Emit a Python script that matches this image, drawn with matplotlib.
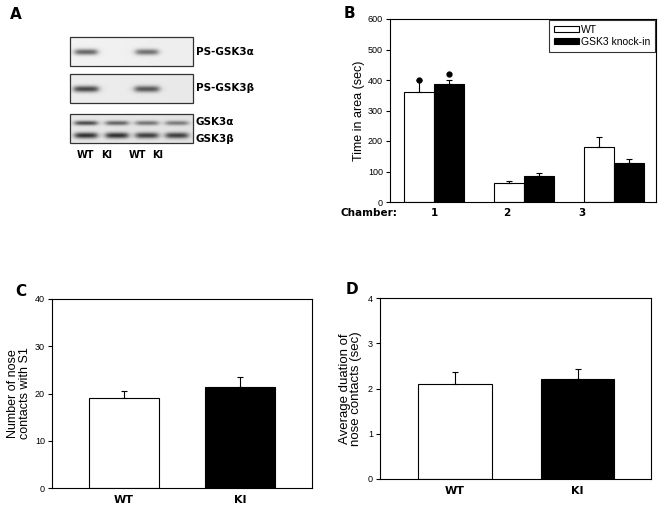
import numpy as np
import matplotlib
matplotlib.use("Agg")
import matplotlib.pyplot as plt
from matplotlib.patches import Patch, Rectangle

plt.rcParams["font.family"] = ["Liberation Sans", "DejaVu Sans"]

# --- data ---
lanes = ["WT", "KI", "WT", "KI"]
ps_alpha = [0.55, 0.0, 0.50, 0.0]
ps_beta = [0.65, 0.0, 0.58, 0.0]
tot_alpha = [0.62, 0.52, 0.45, 0.42]
tot_beta = [0.72, 0.72, 0.66, 0.66]

chambers = ["1", "2", "3"]
wt_time = [361, 61, 179]
wt_time_err = [39, 7, 34]
ki_time = [386, 85, 128]
ki_time_err = [14, 9, 13]

groups = ["WT", "KI"]
contacts = [19.1, 21.3]
contacts_err = [1.4, 2.2]
duration = [2.11, 2.21]
duration_err = [0.25, 0.22]

W, H = 661, 509
fig = plt.figure(figsize=(W / 100, H / 100), dpi=100)

# ---------- panel A: blot drawn in pixel coordinates ----------
pa = fig.add_axes([0, 0, 1, 1])
pa.set_xlim(0, W)
pa.set_ylim(H, 0)
pa.axis("off")
pa.set_zorder(-1)


def band_img(x0, y0, w, h, rows, bg):
    s = 4
    xs = np.linspace(x0, x0 + w, int(w * s))
    ys = np.linspace(y0, y0 + h, int(h * s))
    xx, yy = np.meshgrid(xs, ys)
    img = np.full(xx.shape, bg) - 0.02 * (xx - x0) / w
    lane_x = [x0 + 16, x0 + 47, x0 + 77, x0 + 107]
    for cy, vals, bw, bh in rows:
        for cx, a in zip(lane_x, vals):
            if a <= 0:
                continue
            px = 1 / (1 + np.exp(-(xx - (cx - bw / 2)) / 1.8)) * 1 / (1 + np.exp((xx - (cx + bw / 2)) / 1.8))
            py = np.exp(-((yy - cy) / bh) ** 2)
            img -= a * px * py
    img = np.clip(img, 0, 1)
    pa.imshow(img, cmap="gray", vmin=0, vmax=1, extent=(x0, x0 + w, y0 + h, y0),
              interpolation="bilinear", aspect="auto")
    pa.add_patch(Rectangle((x0, y0), w, h, fill=False, ec="#333333", lw=0.9))


band_img(70, 37, 123, 29, [(52, ps_alpha, 22, 3.0)], 0.95)
band_img(70, 74, 123, 29, [(89, ps_beta, 24, 3.2)], 0.93)
band_img(70, 114, 123, 29, [(123, tot_alpha, 22, 2.3), (135.5, tot_beta, 22, 3.0)], 0.91)

blot_kw = dict(fontsize=7.5, fontweight="bold", family="DejaVu Sans", va="center", ha="left")
pa.text(196, 52, "PS-GSK3α", **blot_kw)
pa.text(196, 88, "PS-GSK3β", **blot_kw)
pa.text(196, 122, "GSK3α", **blot_kw)
pa.text(196, 139, "GSK3β", **blot_kw)
for lx, name in zip([85, 107, 137, 158], lanes):
    pa.text(lx, 155, name, fontsize=7, fontweight="bold", family="DejaVu Sans",
            ha="center", va="center")

letter_kw = dict(fontsize=11, fontweight="bold", family="DejaVu Sans", va="center", ha="left")
pa.text(10, 14, "A", **letter_kw)
pa.text(344, 13, "B", **letter_kw)
pa.text(15, 292, "C", **letter_kw)
pa.text(346, 290, "D", **letter_kw)


def style(ax):
    for sp in ax.spines.values():
        sp.set_linewidth(0.8)
    ax.tick_params(axis="y", direction="out", length=3, width=0.8, labelsize=6.5, pad=2)


# ---------- panel B ----------
axb = fig.add_axes([390 / W, 1 - 202 / H, 266 / W, 183 / H])
x = np.arange(1, 4)
bw = 0.335
axb.bar(x - bw / 2, wt_time, bw, color="white", edgecolor="black", lw=0.8)
axb.bar(x + bw / 2, ki_time, bw, color="black", edgecolor="black", lw=0.8)
axb.errorbar(x - bw / 2, wt_time, yerr=[np.zeros(3), wt_time_err], fmt="none",
             ecolor="black", elinewidth=0.8, capsize=2, capthick=0.8)
axb.errorbar(x + bw / 2, ki_time, yerr=[np.zeros(3), ki_time_err], fmt="none",
             ecolor="black", elinewidth=0.8, capsize=2, capthick=0.8)
axb.plot([1 - bw / 2, 1 + bw / 2], [wt_time[0] + wt_time_err[0], ki_time[0] + ki_time_err[0] + 20],
         "o", color="black", ms=3.5)
axb.set_xlim(0.506, 3.468)
axb.set_ylim(0, 600)
axb.set_yticks(range(0, 601, 100))
axb.set_xticks([1, 1.81, 2.64])
axb.set_xticklabels(chambers, fontsize=7.5, fontweight="bold", family="DejaVu Sans")
axb.tick_params(axis="x", length=0, pad=4)
axb.set_ylabel("Time in area (sec)", fontsize=9, labelpad=2)
style(axb)
leg = axb.legend(handles=[Patch(fc="white", ec="black", lw=0.8, label="WT"),
                          Patch(fc="black", ec="black", lw=0.8, label="GSK3 knock-in")],
                 loc="upper right", fontsize=7.5, frameon=True, fancybox=False,
                 borderaxespad=0.05, handlelength=2.4, handleheight=0.45,
                 handletextpad=0.15, labelspacing=0.2, borderpad=0.5)
leg.get_frame().set_edgecolor("black")
leg.get_frame().set_linewidth(0.8)
fig.text(397 / W, 1 - 213 / H, "Chamber:", fontsize=7.5, fontweight="bold",
         family="DejaVu Sans", ha="right", va="center")

# ---------- panel C ----------
axc = fig.add_axes([52 / W, 1 - 488 / H, 260 / W, 189 / H])
xc = np.arange(2)
axc.bar(xc, contacts, 0.6, color=["white", "black"], edgecolor="black", lw=0.8)
axc.errorbar(xc, contacts, yerr=[np.zeros(2), contacts_err], fmt="none",
             ecolor="black", elinewidth=0.8, capsize=2, capthick=0.8)
axc.set_xlim(-0.616, 1.619)
axc.set_ylim(0, 40)
axc.set_yticks(range(0, 41, 10))
axc.set_xticks(xc)
axc.set_xticklabels(groups, fontsize=8, fontweight="bold", family="DejaVu Sans")
axc.tick_params(axis="x", length=0, pad=5)
axc.set_ylabel("Number of nose\ncontacts with S1", fontsize=9, labelpad=3, linespacing=0.95)
style(axc)

# ---------- panel D ----------
axd = fig.add_axes([380 / W, 1 - 479 / H, 271 / W, 181 / H])
axd.bar(xc, duration, 0.6, color=["white", "black"], edgecolor="black", lw=0.8)
axd.errorbar(xc, duration, yerr=[np.zeros(2), duration_err], fmt="none",
             ecolor="black", elinewidth=0.8, capsize=2, capthick=0.8)
axd.set_xlim(-0.613, 1.60)
axd.set_ylim(0, 4)
axd.set_yticks(range(0, 5))
axd.set_xticks(xc)
axd.set_xticklabels(groups, fontsize=8, fontweight="bold", family="DejaVu Sans")
axd.tick_params(axis="x", length=0, pad=5)
axd.set_ylabel("Average duation of\nnose contacts (sec)", fontsize=9.5, labelpad=4, linespacing=0.95)
style(axd)

fig.savefig("out.png", dpi=100)
